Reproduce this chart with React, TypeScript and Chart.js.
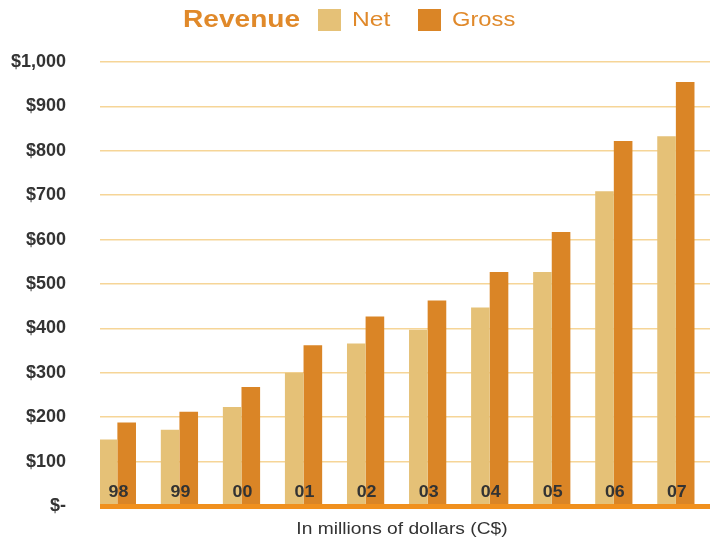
import React, { useEffect, useRef } from "react";
import { Chart, registerables } from "chart.js";

Chart.register(...registerables);

const categories = ["98", "99", "00", "01", "02", "03", "04", "05", "06", "07"];
const netValues = [150, 172, 223, 300, 366, 397, 447, 527, 709, 833];
const grossValues = [188, 212, 268, 362, 427, 463, 527, 617, 822, 955];
const seriesNames = ["Net", "Gross"];
const titleText = "Revenue";
const xTitle = "In millions of dollars (C$)";

const FONT = "'Liberation Sans', Arial, sans-serif";
const NET_COLOR = "#e5c177";
const GROSS_COLOR = "#da8526";
const ORANGE = "#e0892a";

function stretchText(
  ctx: CanvasRenderingContext2D,
  text: string,
  x: number,
  y: number,
  font: string,
  sx: number,
  align: "left" | "center" | "right",
  color: string
) {
  ctx.save();
  ctx.font = font;
  ctx.fillStyle = color;
  ctx.textBaseline = "middle";
  ctx.textAlign = "left";
  const w = ctx.measureText(text).width * sx;
  const left = align === "center" ? x - w / 2 : align === "right" ? x - w : x;
  ctx.translate(left, y);
  ctx.scale(sx, 1);
  ctx.fillText(text, 0, 0);
  ctx.restore();
}

const decorPlugin = {
  id: "decor",
  afterDatasetsDraw(chart: any) {
    const ctx: CanvasRenderingContext2D = chart.ctx;
    const area = chart.chartArea;
    const xs = chart.scales.x;
    const ys = chart.scales.y;
    // baseline
    ctx.save();
    ctx.fillStyle = "#f0901e";
    ctx.fillRect(area.left, ys.getPixelForValue(0) - 2, chart.width - area.left, 5);
    ctx.restore();
    // category labels inside bars
    categories.forEach((c, i) => {
      const x = xs.getPixelForValue(i);
      stretchText(ctx, c, x + 1, ys.getPixelForValue(0) - 14, `bold 17px ${FONT}`, 1.05, "center", "#333333");
    });
    // title + legend
    stretchText(ctx, titleText, 183, 20, `bold 24px ${FONT}`, 1.17, "left", ORANGE);
    ctx.save();
    ctx.fillStyle = NET_COLOR;
    ctx.fillRect(318, 9, 23, 22);
    ctx.fillStyle = GROSS_COLOR;
    ctx.fillRect(418, 9, 23, 22);
    ctx.restore();
    stretchText(ctx, seriesNames[0], 352, 20, `21px ${FONT}`, 1.17, "left", ORANGE);
    stretchText(ctx, seriesNames[1], 452, 20, `21px ${FONT}`, 1.13, "left", ORANGE);
    // x axis title
    stretchText(ctx, xTitle, 402, 530, `16px ${FONT}`, 1.2, "center", "#333333");
  },
};

export default function App() {
  const ref = useRef<HTMLCanvasElement | null>(null);
  useEffect(() => {
    document.body.style.margin = "0";
    if (!ref.current) return;
    const chart = new Chart(ref.current, {
      type: "bar",
      data: {
        datasets: [
          {
            label: seriesNames[0],
            data: netValues.map((v, i) => ({ x: i, y: v })),
            backgroundColor: NET_COLOR,
            borderWidth: 0,
            categoryPercentage: 0.6,
            barPercentage: 1.0,
          },
          {
            label: seriesNames[1],
            data: grossValues.map((v, i) => ({ x: i, y: v })),
            backgroundColor: GROSS_COLOR,
            borderWidth: 0,
            categoryPercentage: 0.6,
            barPercentage: 1.0,
          },
        ],
      },
      options: {
        animation: false,
        responsive: true,
        maintainAspectRatio: false,
        layout: { padding: { top: 62, bottom: 38, left: 0, right: 0 } },
        plugins: {
          legend: { display: false },
          title: { display: false },
          tooltip: { enabled: false },
        },
        scales: {
          x: {
            type: "linear",
            min: -0.28,
            max: 9.55,
            offset: false,
            display: false,
          },
          y: {
            min: 0,
            max: 1000,
            afterFit(scale: any) {
              scale.width = 100;
              scale.paddingTop = 11;
              scale.paddingBottom = 11;
            },
            border: { display: false },
            grid: { color: "#f6d597", lineWidth: 1.5, drawTicks: false },
            ticks: {
              stepSize: 100,
              padding: 34,
              color: "#333333",
              font: { family: FONT, size: 18, weight: "bold" },
              callback: (v: any) => (Number(v) === 0 ? "$-" : "$" + Number(v).toLocaleString("en-US")),
            },
          },
        },
      } as any,
      plugins: [decorPlugin],
    });
    return () => chart.destroy();
  }, []);
  return (
    <div style={{ width: 710, height: 544, position: "relative" }}>
      <canvas ref={ref} />
    </div>
  );
}
